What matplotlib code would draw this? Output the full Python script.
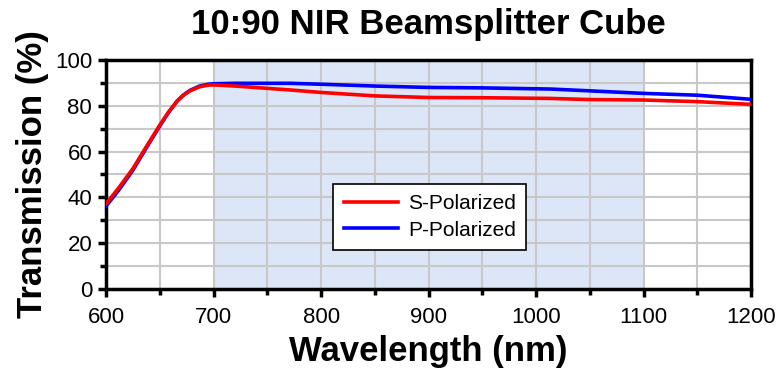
import matplotlib
matplotlib.use("Agg")
import matplotlib.pyplot as plt
import numpy as np
from matplotlib.ticker import MultipleLocator

plt.rcParams['font.family'] = ['Liberation Sans', 'DejaVu Sans']

wl = [600, 612, 625, 637, 650, 658, 666, 672, 678, 687, 695, 700, 720, 750, 771, 800, 850, 900, 950, 1013, 1050, 1100, 1150, 1200]
s_pol = [37.2, 44.3, 52.6, 61.8, 71.6, 77.2, 82.0, 84.6, 86.5, 88.3, 89.0, 89.1, 88.6, 87.6, 86.9, 85.8, 84.3, 83.6, 83.5, 83.2, 82.7, 82.5, 81.8, 80.6]
p_pol = [36.2, 43.3, 51.9, 61.3, 71.2, 77.0, 82.0, 84.7, 86.7, 88.6, 89.4, 89.6, 89.8, 89.8, 89.8, 89.4, 88.6, 88.0, 87.8, 87.3, 86.5, 85.4, 84.6, 82.8]

shade_range = (700, 1100)
xlim = (600, 1200)
ylim = (0, 100)

fig = plt.figure(figsize=(7.8, 3.7), dpi=100)
ax = fig.add_axes([0.136, 0.219, 0.827, 0.619])

ax.axvspan(*shade_range, color='#dde6f7', zorder=0, lw=0)
ax.plot(wl, p_pol, color='#0000ff', lw=2.6, label='P-Polarized', zorder=3)
ax.plot(wl, s_pol, color='#ff0000', lw=2.6, label='S-Polarized', zorder=4)

ax.set_xlim(*xlim)
ax.set_ylim(*ylim)
ax.xaxis.set_major_locator(MultipleLocator(100))
ax.xaxis.set_minor_locator(MultipleLocator(50))
ax.yaxis.set_major_locator(MultipleLocator(20))
ax.yaxis.set_minor_locator(MultipleLocator(10))
ax.grid(which='both', color='#c8c8c8', lw=1.5, zorder=1)
ax.set_axisbelow(True)
for sp in ax.spines.values():
    sp.set_linewidth(2.5)
ax.tick_params(which='major', direction='out', length=6, width=2.5, labelsize=16, pad=4)
ax.tick_params(axis='x', which='major', pad=7)
ax.tick_params(which='minor', direction='out', length=4, width=2.5)

ax.set_title('10:90 NIR Beamsplitter Cube', fontsize=25, fontweight='bold', pad=19)
ax.set_xlabel('Wavelength (nm)', fontsize=25, fontweight='bold', labelpad=5)
ax.set_ylabel('Transmission (%)', fontsize=25, fontweight='bold', labelpad=4)

handles, labels = ax.get_legend_handles_labels()
leg = ax.legend(handles[::-1], labels[::-1], loc='lower left', bbox_to_anchor=(0.352, 0.17),
                borderaxespad=0,
                fontsize=15, fancybox=False, edgecolor='black', framealpha=1,
                handlelength=2.6, borderpad=0.5, handletextpad=0.5, labelspacing=0.35)
leg.get_frame().set_linewidth(1.2)
leg.set_zorder(5)

fig.savefig('out.png', dpi=100)
